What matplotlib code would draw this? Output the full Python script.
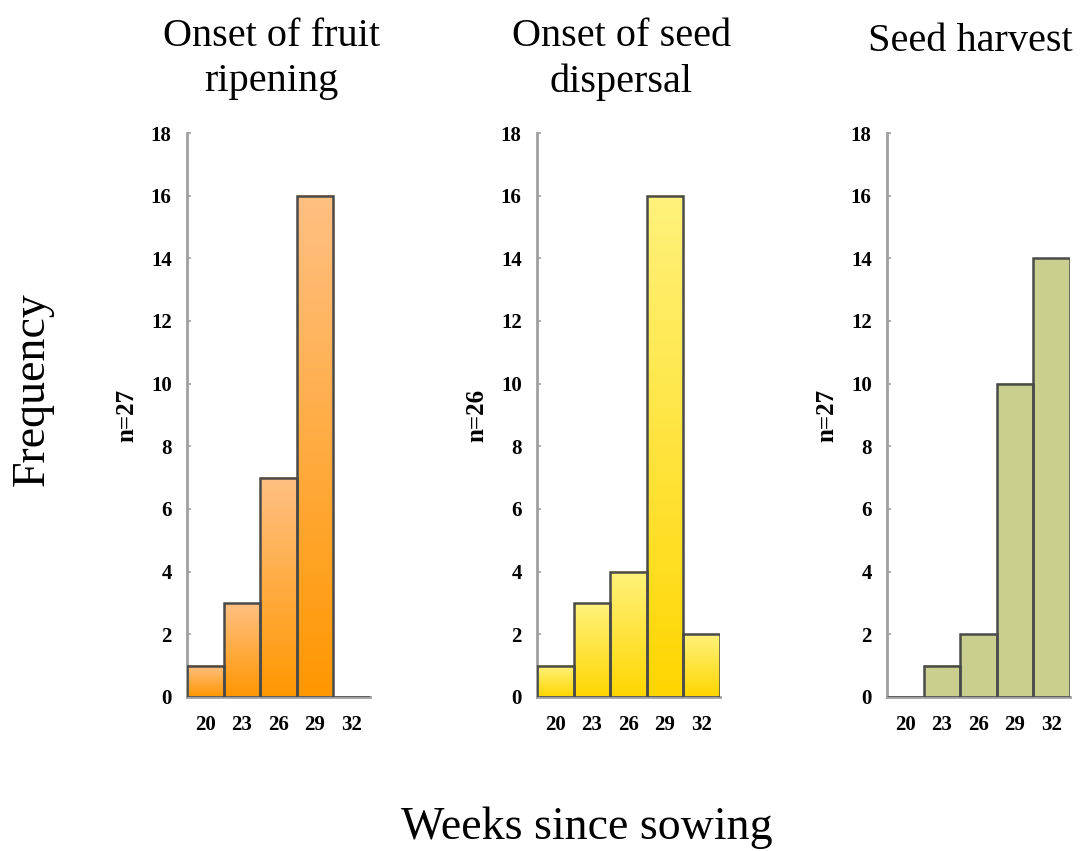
import numpy as np
import matplotlib
matplotlib.use('Agg')
import matplotlib.pyplot as plt
from matplotlib.colors import LinearSegmentedColormap

# Weekly bins and counts for each stage
weeks = [20, 23, 26, 29, 32]
ripening = [1, 3, 7, 16, 0]
dispersal = [1, 3, 4, 16, 2]
harvest = [0, 1, 2, 10, 14]
sample_sizes = [27, 26, 27]
titles = ['Onset of fruit\nripening', 'Onset of seed\ndispersal', 'Seed harvest']
yticks = [0, 2, 4, 6, 8, 10, 12, 14, 16, 18]

# bar fill: (bottom colour, top colour)
fills = [('#FF9700', '#FFC083'),
         ('#FFD600', '#FFF27C'),
         ('#CACF8F', '#CACF8F')]

plt.rcParams['font.family'] = ['Liberation Serif', 'DejaVu Serif']

fig = plt.figure(figsize=(10.82, 8.51), dpi=100)

lefts = [0.1728, 0.4963, 0.8198]
width = 0.169
bottom = 0.181
height = 0.6627
title_x = [0.251, 0.574, 0.897]
title_y = [0.979, 0.979, 0.973]

for i, counts in enumerate([ripening, dispersal, harvest]):
    ax = fig.add_axes([lefts[i], bottom, width, height])
    cmap = LinearSegmentedColormap.from_list('fill%d' % i, list(fills[i]))
    grad = np.linspace(0, 1, 256).reshape(-1, 1)
    for j, c in enumerate(counts):
        if c <= 0:
            continue
        ax.imshow(grad, cmap=cmap, origin='lower', aspect='auto',
                  extent=(j - 0.5, j + 0.5, 0, c), zorder=2)
    ax.bar(range(len(weeks)), counts, width=1.0, facecolor='none',
           edgecolor='#4a4a4a', linewidth=1.8, zorder=3)

    ax.set_xlim(-0.5, len(weeks) - 0.5)
    ax.set_ylim(0, 18)
    ax.set_xticks(range(len(weeks)))
    ax.set_xticklabels([str(w) for w in weeks])
    ax.set_yticks(yticks)
    for s in ['top', 'right']:
        ax.spines[s].set_visible(False)
    for s in ['left', 'bottom']:
        ax.spines[s].set_color('#a0a0a0')
        ax.spines[s].set_linewidth(2)
    ax.tick_params(axis='y', direction='in', length=3, color='#a0a0a0',
                   width=1.2, pad=11, labelsize=15)
    ax.tick_params(axis='x', length=0, pad=13, labelsize=15)
    for lab in ax.get_xticklabels() + ax.get_yticklabels():
        lab.set_fontweight('bold')

    ax.text(-0.33, 0.5, 'n=%d' % sample_sizes[i], transform=ax.transAxes,
            rotation=90, ha='center', va='center', fontsize=18,
            fontweight='bold')

    fig.text(title_x[i], title_y[i], titles[i], ha='center', va='top',
             fontsize=29, linespacing=1.3)

fig.text(0.03, 0.543, 'Frequency', rotation=90, ha='center', va='center',
         fontsize=33)
fig.text(0.542, 0.027, 'Weeks since sowing', ha='center', va='center',
         fontsize=33)

fig.savefig('out.png', dpi=100)
